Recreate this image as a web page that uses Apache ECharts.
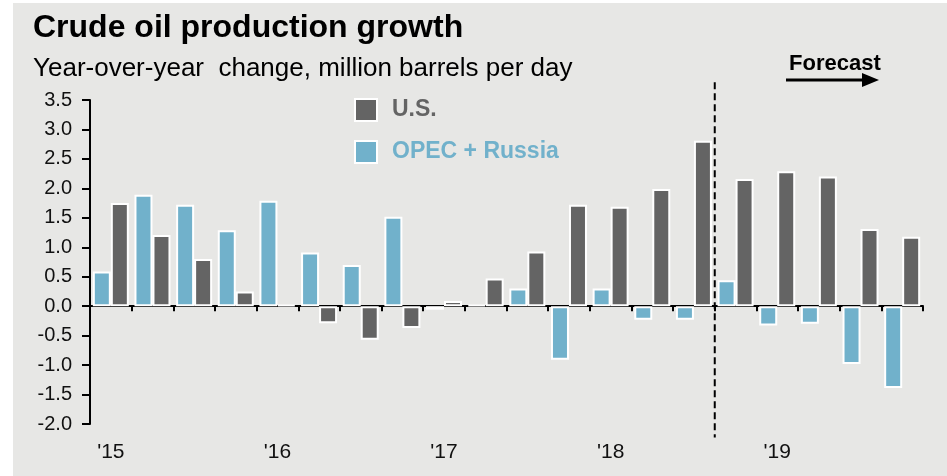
<!DOCTYPE html>
<html>
<head>
<meta charset="utf-8">
<script src="https://cdn.jsdelivr.net/npm/echarts@6/dist/echarts.min.js"></script>
<style>
  html, body { margin: 0; padding: 0; background: #ffffff; }
  #panel { position: absolute; left: 13px; top: 3px; width: 934px; height: 473px; background: #e7e7e5; }
  #chart { position: absolute; left: 0; top: 0; width: 947px; height: 476px; }
</style>
</head>
<body>
<div id="panel"></div>
<div id="chart"></div>
<script>
// quarters 1Q15 .. 4Q19
const quarters = [
  '1Q15', '2Q15', '3Q15', '4Q15',
  '1Q16', '2Q16', '3Q16', '4Q16',
  '1Q17', '2Q17', '3Q17', '4Q17',
  '1Q18', '2Q18', '3Q18', '4Q18',
  '1Q19', '2Q19', '3Q19', '4Q19'
]
const yearLabels = ["'15", "'16", "'17", "'18", "'19"]

// year-over-year change, million b/d
const opecRussia = [0.59, 1.89, 1.72, 1.29, 1.79, 0.91, 0.70, 1.52, -0.06, 0.02, 0.30, -0.91, 0.30, -0.23, -0.23, 0.44, -0.33, -0.30, -0.98, -1.39]
const usProd = [1.75, 1.21, 0.80, 0.25, 0.02, -0.29, -0.57, -0.37, 0.09, 0.47, 0.93, 1.72, 1.69, 1.99, 2.81, 2.16, 2.29, 2.20, 1.31, 1.18]

// forecast starts after 3Q18 (boundary between index 14 and 15)
const forecastStart = 14.5

const FONT = '"Liberation Sans", Arial, sans-serif'
const GRAY = '#646464'
const BLUE = '#71b1cb'

const chart = echarts.init(document.getElementById('chart'))

const option = {
  backgroundColor: 'transparent',
  animation: false,
  title: {
    text: 'Crude oil production growth',
    subtext: 'Year-over-year  change, million barrels per day',
    left: 33,
    top: 12,
    padding: 0,
    itemGap: 12,
    textStyle: { fontFamily: FONT, fontSize: 32, fontWeight: 'bold', color: '#000' },
    subtextStyle: { fontFamily: FONT, fontSize: 26, color: '#000' }
  },
  legend: {
    orient: 'vertical',
    left: 354,
    top: 98,
    itemWidth: 22,
    itemHeight: 22,
    itemGap: 18,
    padding: 0,
    icon: 'rect',
    data: [
      { name: 'U.S.', textStyle: { color: GRAY } },
      { name: 'OPEC + Russia', textStyle: { color: BLUE } }
    ],
    textStyle: { fontFamily: FONT, fontSize: 23, fontWeight: 'bold', padding: [0, 0, 0, 10] }
  },
  grid: { left: 90, right: 24, top: 100, bottom: 52 },
  xAxis: [
    {
      type: 'category',
      data: quarters,
      position: 'bottom',
      axisLine: { show: false, onZero: false },
      axisTick: { show: false },
      axisLabel: {
        interval: 3,
        margin: 18,
        fontFamily: FONT,
        fontSize: 21,
        color: '#111',
        formatter: (v, i) => yearLabels[Math.floor(i / 4)]
      },
      splitLine: { show: false }
    },
    {
      type: 'category',
      data: quarters,
      position: 'bottom',
      axisLine: { show: true, onZero: true, lineStyle: { color: '#000', width: 2 } },
      axisTick: { show: true, interval: 0, length: 5, lineStyle: { color: '#000', width: 2 } },
      axisLabel: { show: false },
      splitLine: { show: false }
    },
    {
      type: 'value',
      min: -0.5,
      max: quarters.length - 0.5,
      show: false
    }
  ],
  yAxis: {
    type: 'value',
    min: -2,
    max: 3.5,
    interval: 0.5,
    axisLine: { show: true, onZero: false, lineStyle: { color: '#000', width: 2 } },
    axisTick: { show: true, length: 8, lineStyle: { color: '#000', width: 2 } },
    axisLabel: {
      margin: 18,
      fontFamily: FONT,
      fontSize: 20,
      color: '#111',
      formatter: (v) => v.toFixed(1)
    },
    splitLine: { show: false }
  },
  series: [
    {
      name: 'OPEC + Russia',
      type: 'bar',
      xAxisIndex: 0,
      data: opecRussia,
      barWidth: 18,
      barGap: '0%',
      itemStyle: { color: BLUE, borderColor: '#fff', borderWidth: 2 }
    },
    {
      name: 'U.S.',
      type: 'bar',
      xAxisIndex: 0,
      data: usProd,
      barWidth: 18,
      barGap: '0%',
      itemStyle: { color: GRAY, borderColor: '#fff', borderWidth: 2 }
    },
    {
      name: 'forecast',
      type: 'line',
      xAxisIndex: 2,
      data: [[forecastStart, 3.8], [forecastStart, -2.23]],
      symbol: 'none',
      clip: false,
      silent: true,
      lineStyle: { color: '#000', width: 2, type: [7, 4] },
      z: 5
    }
  ],
  graphic: [
    {
      type: 'text',
      left: 789,
      top: 53,
      style: { text: 'Forecast', fill: '#000', font: 'bold 22px "Liberation Sans", Arial, sans-serif' }
    },
    {
      type: 'line',
      shape: { x1: 786, y1: 80, x2: 866, y2: 80 },
      style: { stroke: '#000', lineWidth: 3 }
    },
    {
      type: 'polygon',
      shape: { points: [[862, 73], [879, 80], [862, 87]] },
      style: { fill: '#000' }
    }
  ]
}

chart.setOption(option)
window.addEventListener('resize', () => chart.resize())
</script>
</body>
</html>
